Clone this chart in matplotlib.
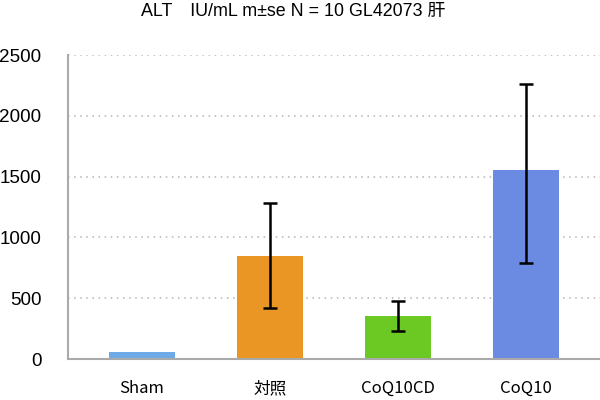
import matplotlib
matplotlib.use('Agg')
import matplotlib.pyplot as plt

plt.rcParams['font.family'] = ['Liberation Sans', 'Noto Sans CJK JP', 'DejaVu Sans']

# data
groups = ['Sham', '対照', 'CoQ10CD', 'CoQ10']
means = [58, 850, 355, 1552]
err_lo = [0, 432, 123, 760]
err_hi = [0, 432, 123, 707]
colors = ['#6eaae6', '#e99624', '#6cc822', '#6b8be2']

fig = plt.figure(figsize=(6, 4), dpi=100)
ax = fig.add_axes([0.1133, 0.1025, 0.8867, 0.76])

x = list(range(len(groups)))
ax.bar(x, means, width=0.515, color=colors, zorder=2)
idx = [i for i in x if err_hi[i] > 0]
ax.errorbar(idx, [means[i] for i in idx],
            yerr=[[err_lo[i] for i in idx], [err_hi[i] for i in idx]],
            fmt='none', ecolor='black', elinewidth=1.8, capsize=4.7,
            capthick=1.8, zorder=3)

ax.set_xlim(-0.578, 3.578)
ax.set_ylim(0, 2500)
ax.set_yticks([0, 500, 1000, 1500, 2000, 2500])
ax.set_xticks(x)
ax.set_xticklabels(groups, family=['Noto Sans CJK JP', 'DejaVu Sans'], fontsize=12)
ax.tick_params(axis='both', length=0)
ax.tick_params(axis='x', pad=15)
ax.tick_params(axis='y', pad=19, labelsize=13.6)

ax.yaxis.grid(True, linestyle=(0, (1, 3)), color='#b4b4b4', linewidth=1.1, zorder=0)
ax.spines['top'].set_visible(False)
ax.spines['right'].set_visible(False)
ax.spines['left'].set_color('#aaaaaa')
ax.spines['bottom'].set_color('#aaaaaa')
ax.spines['left'].set_linewidth(1.5)
ax.spines['bottom'].set_linewidth(1.5)

fig.text(0.488, 0.972, 'ALT\u3000IU/mL m±se N = 10 GL42073 肝', ha='center', va='center', fontsize=12.9)

fig.savefig('out.png', dpi=100)
